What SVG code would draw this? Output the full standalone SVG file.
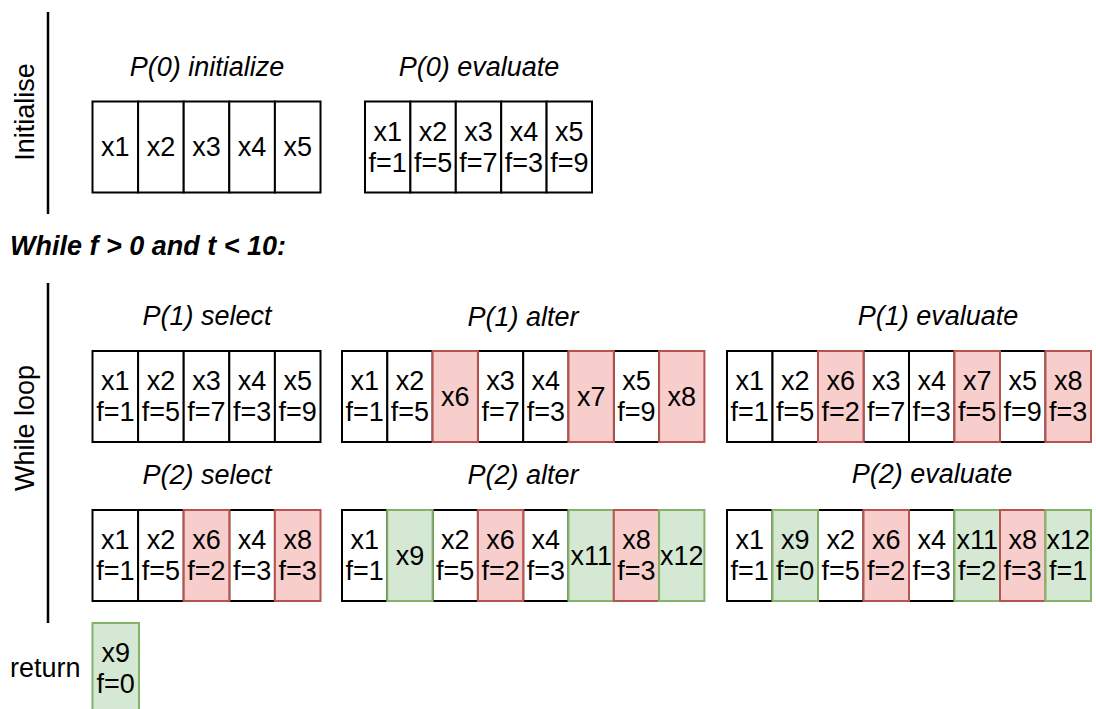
<svg xmlns="http://www.w3.org/2000/svg" width="1096" height="709" viewBox="0 0 1096 709">
<style>
text{font-family:"Liberation Sans",Arial,Helvetica,sans-serif;font-size:27px;fill:#000}
.t{text-anchor:middle}
.h{font-style:italic;text-anchor:middle}
.c{fill:#fff;stroke:#000;stroke-width:2}
.r{fill:#f8cecc;stroke:#b85450;stroke-width:2}
.g{fill:#d5e8d4;stroke:#82b366;stroke-width:2}
.ln{stroke:#000;stroke-width:2.5;fill:none}
</style>
<rect width="1096" height="709" fill="#fff"/>
<g id="connectors">
<line class="ln" x1="48" y1="12" x2="48" y2="214"/>
<line class="ln" x1="48" y1="283" x2="48" y2="623"/>
</g>
<g id="labels">
<text transform="translate(34,112) rotate(-90)" class="t">Initialise</text>
<text transform="translate(34,428) rotate(-90)" class="t">While loop</text>
<text x="10" y="255" style="font-weight:bold;font-style:italic">While f &gt; 0 and t &lt; 10:</text>
<text x="10" y="677">return</text>
<text class="h" x="207" y="76">P(0) initialize</text>
<text class="h" x="479" y="76">P(0) evaluate</text>
<text class="h" x="207" y="325">P(1) select</text>
<text class="h" x="523" y="326">P(1) alter</text>
<text class="h" x="938" y="325">P(1) evaluate</text>
<text class="h" x="207" y="484">P(2) select</text>
<text class="h" x="523" y="484">P(2) alter</text>
<text class="h" x="932" y="483">P(2) evaluate</text>
</g>
<!-- P(0) initialize -->
<g id="p0init">
<g id="p0i-x1"><rect class="c" x="92.5" y="101.5" width="45.6" height="91"/><text class="t" x="115.3" y="156">x1</text></g>
<g id="p0i-x2"><rect class="c" x="138.1" y="101.5" width="45.6" height="91"/><text class="t" x="160.9" y="156">x2</text></g>
<g id="p0i-x3"><rect class="c" x="183.7" y="101.5" width="45.6" height="91"/><text class="t" x="206.5" y="156">x3</text></g>
<g id="p0i-x4"><rect class="c" x="229.3" y="101.5" width="45.6" height="91"/><text class="t" x="252.1" y="156">x4</text></g>
<g id="p0i-x5"><rect class="c" x="274.9" y="101.5" width="45.6" height="91"/><text class="t" x="297.7" y="156">x5</text></g>
</g>
<!-- P(0) evaluate -->
<g id="p0eval">
<g id="p0e-x1"><rect class="c" x="365" y="101.5" width="45.4" height="91"/><text class="t" x="387.7" y="140.5">x1</text><text class="t" x="387.7" y="171.5">f=1</text></g>
<g id="p0e-x2"><rect class="c" x="410.4" y="101.5" width="45.4" height="91"/><text class="t" x="433.1" y="140.5">x2</text><text class="t" x="433.1" y="171.5">f=5</text></g>
<g id="p0e-x3"><rect class="c" x="455.8" y="101.5" width="45.4" height="91"/><text class="t" x="478.5" y="140.5">x3</text><text class="t" x="478.5" y="171.5">f=7</text></g>
<g id="p0e-x4"><rect class="c" x="501.2" y="101.5" width="45.4" height="91"/><text class="t" x="523.9" y="140.5">x4</text><text class="t" x="523.9" y="171.5">f=3</text></g>
<g id="p0e-x5"><rect class="c" x="546.6" y="101.5" width="45.4" height="91"/><text class="t" x="569.3" y="140.5">x5</text><text class="t" x="569.3" y="171.5">f=9</text></g>
</g>
<!-- P(1) select -->
<g id="p1sel">
<g id="p1s-x1"><rect class="c" x="92.5" y="351" width="45.6" height="91"/><text class="t" x="115.3" y="390">x1</text><text class="t" x="115.3" y="421">f=1</text></g>
<g id="p1s-x2"><rect class="c" x="138.1" y="351" width="45.6" height="91"/><text class="t" x="160.9" y="390">x2</text><text class="t" x="160.9" y="421">f=5</text></g>
<g id="p1s-x3"><rect class="c" x="183.7" y="351" width="45.6" height="91"/><text class="t" x="206.5" y="390">x3</text><text class="t" x="206.5" y="421">f=7</text></g>
<g id="p1s-x4"><rect class="c" x="229.3" y="351" width="45.6" height="91"/><text class="t" x="252.1" y="390">x4</text><text class="t" x="252.1" y="421">f=3</text></g>
<g id="p1s-x5"><rect class="c" x="274.9" y="351" width="45.6" height="91"/><text class="t" x="297.7" y="390">x5</text><text class="t" x="297.7" y="421">f=9</text></g>
</g>
<!-- P(1) alter -->
<g id="p1alt">
<g id="p1a-x1"><rect class="c" x="342" y="351" width="45.3" height="91"/><text class="t" x="364.65" y="390">x1</text><text class="t" x="364.65" y="421">f=1</text></g>
<g id="p1a-x2"><rect class="c" x="387.3" y="351" width="45.3" height="91"/><text class="t" x="409.95" y="390">x2</text><text class="t" x="409.95" y="421">f=5</text></g>
<g id="p1a-x3"><rect class="c" x="477.9" y="351" width="45.3" height="91"/><text class="t" x="500.55" y="390">x3</text><text class="t" x="500.55" y="421">f=7</text></g>
<g id="p1a-x4"><rect class="c" x="523.2" y="351" width="45.3" height="91"/><text class="t" x="545.85" y="390">x4</text><text class="t" x="545.85" y="421">f=3</text></g>
<g id="p1a-x5"><rect class="c" x="613.8" y="351" width="45.3" height="91"/><text class="t" x="636.45" y="390">x5</text><text class="t" x="636.45" y="421">f=9</text></g>
<g id="p1a-x6"><rect class="r" x="432.6" y="351" width="45.3" height="91"/><text class="t" x="455.25" y="405.5">x6</text></g>
<g id="p1a-x7"><rect class="r" x="568.5" y="351" width="45.3" height="91"/><text class="t" x="591.15" y="405.5">x7</text></g>
<g id="p1a-x8"><rect class="r" x="659.1" y="351" width="45.3" height="91"/><text class="t" x="681.75" y="405.5">x8</text></g>
</g>
<!-- P(1) evaluate -->
<g id="p1eval">
<g id="p1e-x1"><rect class="c" x="727" y="351" width="45.5" height="91"/><text class="t" x="749.75" y="390">x1</text><text class="t" x="749.75" y="421">f=1</text></g>
<g id="p1e-x2"><rect class="c" x="772.5" y="351" width="45.5" height="91"/><text class="t" x="795.25" y="390">x2</text><text class="t" x="795.25" y="421">f=5</text></g>
<g id="p1e-x3"><rect class="c" x="863.5" y="351" width="45.5" height="91"/><text class="t" x="886.25" y="390">x3</text><text class="t" x="886.25" y="421">f=7</text></g>
<g id="p1e-x4"><rect class="c" x="909" y="351" width="45.5" height="91"/><text class="t" x="931.75" y="390">x4</text><text class="t" x="931.75" y="421">f=3</text></g>
<g id="p1e-x5"><rect class="c" x="1000" y="351" width="45.5" height="91"/><text class="t" x="1022.75" y="390">x5</text><text class="t" x="1022.75" y="421">f=9</text></g>
<g id="p1e-x6"><rect class="r" x="818" y="351" width="45.5" height="91"/><text class="t" x="840.75" y="390">x6</text><text class="t" x="840.75" y="421">f=2</text></g>
<g id="p1e-x7"><rect class="r" x="954.5" y="351" width="45.5" height="91"/><text class="t" x="977.25" y="390">x7</text><text class="t" x="977.25" y="421">f=5</text></g>
<g id="p1e-x8"><rect class="r" x="1045.5" y="351" width="45.5" height="91"/><text class="t" x="1068.25" y="390">x8</text><text class="t" x="1068.25" y="421">f=3</text></g>
</g>
<!-- P(2) select -->
<g id="p2sel">
<g id="p2s-x1"><rect class="c" x="92.5" y="510" width="45.6" height="91"/><text class="t" x="115.3" y="549">x1</text><text class="t" x="115.3" y="580">f=1</text></g>
<g id="p2s-x2"><rect class="c" x="138.1" y="510" width="45.6" height="91"/><text class="t" x="160.9" y="549">x2</text><text class="t" x="160.9" y="580">f=5</text></g>
<g id="p2s-x4"><rect class="c" x="229.3" y="510" width="45.6" height="91"/><text class="t" x="252.1" y="549">x4</text><text class="t" x="252.1" y="580">f=3</text></g>
<g id="p2s-x6"><rect class="r" x="183.7" y="510" width="45.6" height="91"/><text class="t" x="206.5" y="549">x6</text><text class="t" x="206.5" y="580">f=2</text></g>
<g id="p2s-x8"><rect class="r" x="274.9" y="510" width="45.6" height="91"/><text class="t" x="297.7" y="549">x8</text><text class="t" x="297.7" y="580">f=3</text></g>
</g>
<!-- P(2) alter -->
<g id="p2alt">
<g id="p2a-x1"><rect class="c" x="342" y="510" width="45.3" height="91"/><text class="t" x="364.65" y="549">x1</text><text class="t" x="364.65" y="580">f=1</text></g>
<g id="p2a-x2"><rect class="c" x="432.6" y="510" width="45.3" height="91"/><text class="t" x="455.25" y="549">x2</text><text class="t" x="455.25" y="580">f=5</text></g>
<g id="p2a-x4"><rect class="c" x="523.2" y="510" width="45.3" height="91"/><text class="t" x="545.85" y="549">x4</text><text class="t" x="545.85" y="580">f=3</text></g>
<g id="p2a-x9"><rect class="g" x="387.3" y="510" width="45.3" height="91"/><text class="t" x="409.95" y="564.5">x9</text></g>
<g id="p2a-x6"><rect class="r" x="477.9" y="510" width="45.3" height="91"/><text class="t" x="500.55" y="549">x6</text><text class="t" x="500.55" y="580">f=2</text></g>
<g id="p2a-x11"><rect class="g" x="568.5" y="510" width="45.3" height="91"/><text class="t" x="591.15" y="564.5">x11</text></g>
<g id="p2a-x8"><rect class="r" x="613.8" y="510" width="45.3" height="91"/><text class="t" x="636.45" y="549">x8</text><text class="t" x="636.45" y="580">f=3</text></g>
<g id="p2a-x12"><rect class="g" x="659.1" y="510" width="45.3" height="91"/><text class="t" x="681.75" y="564.5">x12</text></g>
</g>
<!-- P(2) evaluate -->
<g id="p2eval">
<g id="p2e-x1"><rect class="c" x="727" y="510" width="45.5" height="91"/><text class="t" x="749.75" y="549">x1</text><text class="t" x="749.75" y="580">f=1</text></g>
<g id="p2e-x2"><rect class="c" x="818" y="510" width="45.5" height="91"/><text class="t" x="840.75" y="549">x2</text><text class="t" x="840.75" y="580">f=5</text></g>
<g id="p2e-x4"><rect class="c" x="909" y="510" width="45.5" height="91"/><text class="t" x="931.75" y="549">x4</text><text class="t" x="931.75" y="580">f=3</text></g>
<g id="p2e-x9"><rect class="g" x="772.5" y="510" width="45.5" height="91"/><text class="t" x="795.25" y="549">x9</text><text class="t" x="795.25" y="580">f=0</text></g>
<g id="p2e-x6"><rect class="r" x="863.5" y="510" width="45.5" height="91"/><text class="t" x="886.25" y="549">x6</text><text class="t" x="886.25" y="580">f=2</text></g>
<g id="p2e-x11"><rect class="g" x="954.5" y="510" width="45.5" height="91"/><text class="t" x="977.25" y="549">x11</text><text class="t" x="977.25" y="580">f=2</text></g>
<g id="p2e-x8"><rect class="r" x="1000" y="510" width="45.5" height="91"/><text class="t" x="1022.75" y="549">x8</text><text class="t" x="1022.75" y="580">f=3</text></g>
<g id="p2e-x12"><rect class="g" x="1045.5" y="510" width="45.5" height="91"/><text class="t" x="1068.25" y="549">x12</text><text class="t" x="1068.25" y="580">f=1</text></g>
</g>
<!-- return -->
<g id="ret">
<g id="ret-x9"><rect class="g" x="92.5" y="623" width="46.5" height="91"/><text class="t" x="115.75" y="662">x9</text><text class="t" x="115.75" y="693">f=0</text></g>
</g>
</svg>
